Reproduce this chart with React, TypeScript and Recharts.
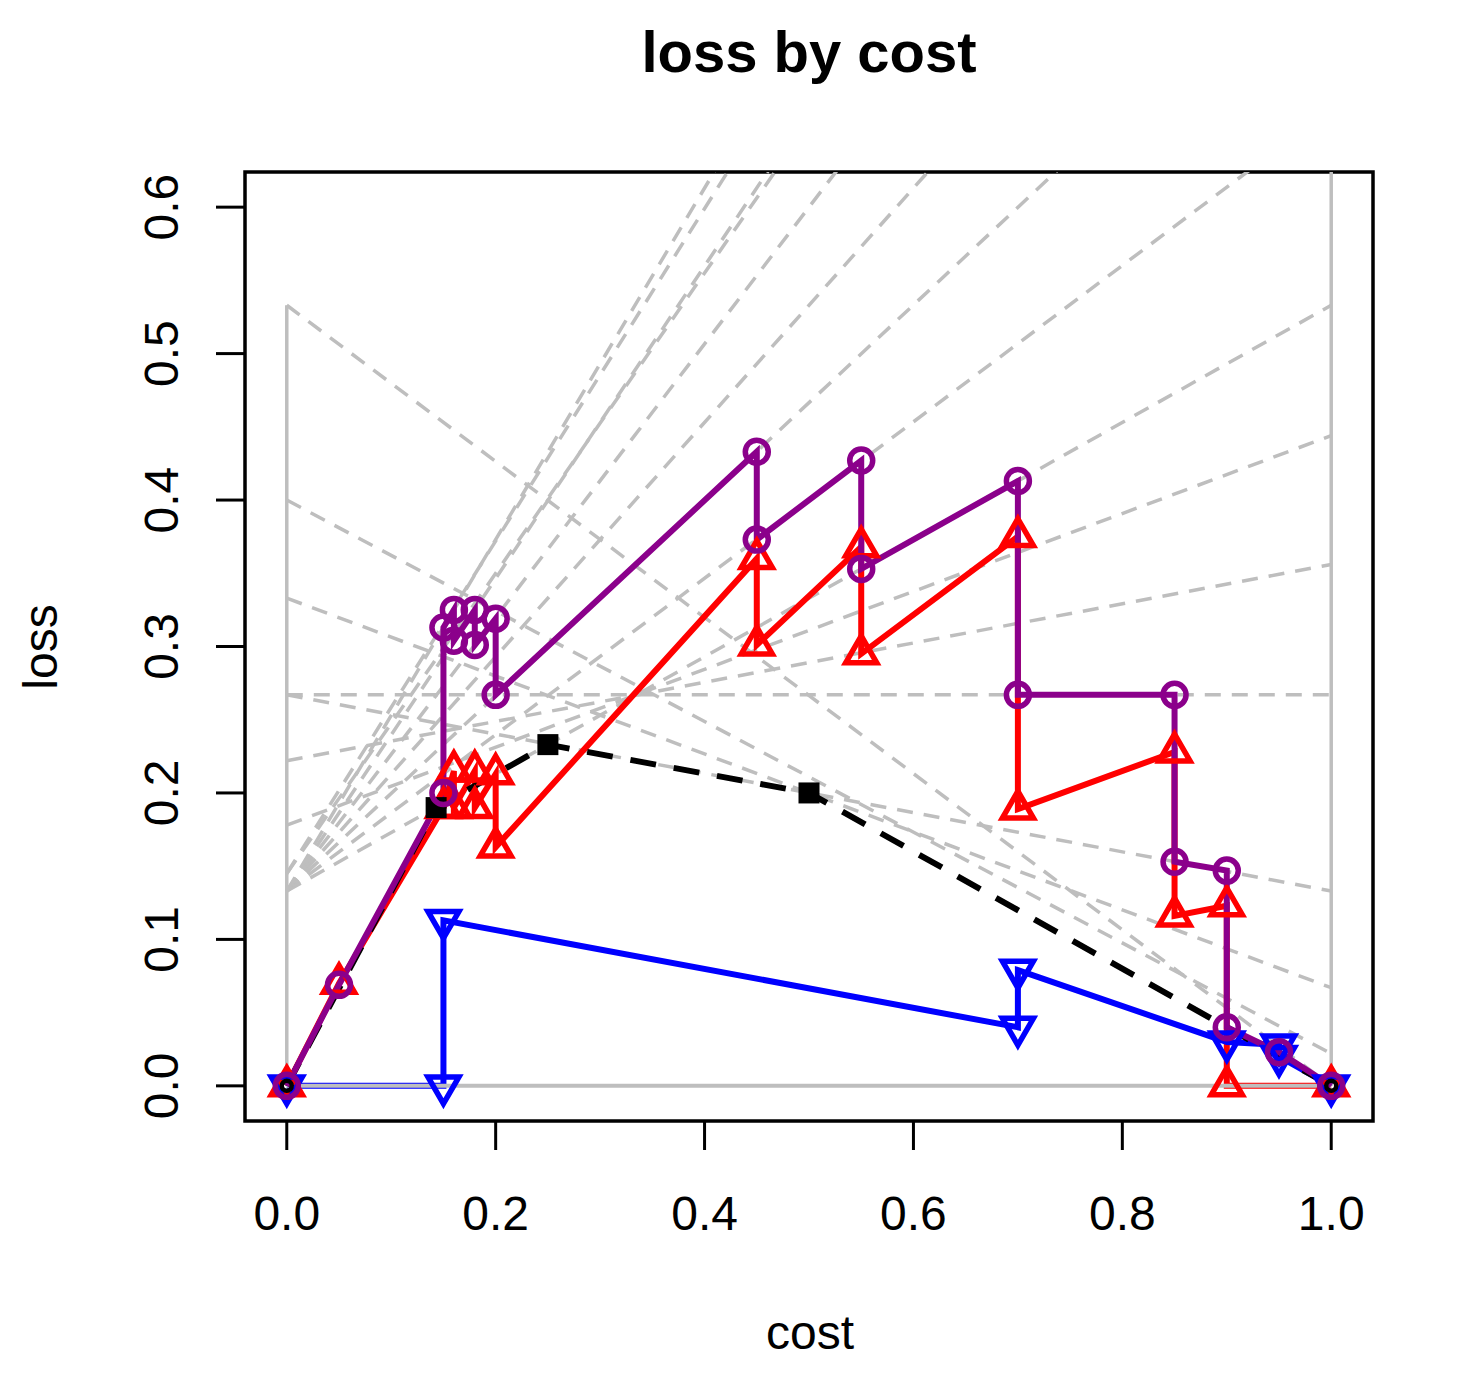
import React from 'react';
import { ComposedChart, Line, XAxis, YAxis, ReferenceArea } from 'recharts';

// ---- axis ticks ----
const xTicks = [0, 0.2, 0.4, 0.6, 0.8, 1.0];
const yTicks = [0, 0.1, 0.2, 0.3, 0.4, 0.5, 0.6];

// ---- purple series (circles) ----
const purpleCost = [0, 0.05, 0.15, 0.15, 0.16, 0.16, 0.18, 0.18, 0.2, 0.2, 0.45, 0.45, 0.55, 0.55, 0.7, 0.7, 0.85, 0.85, 0.9, 0.9, 0.95, 1];
const purpleLoss = [0, 0.069, 0.2, 0.313, 0.325, 0.304, 0.325, 0.301, 0.319, 0.267, 0.433, 0.373, 0.427, 0.353, 0.413, 0.267, 0.267, 0.153, 0.147, 0.04, 0.023, 0];

// ---- red series (up triangles) ----
const redCost = [0, 0.05, 0.15, 0.16, 0.16, 0.18, 0.18, 0.2, 0.2, 0.45, 0.45, 0.55, 0.55, 0.7, 0.7, 0.85, 0.85, 0.9, 0.9, 1];
const redLoss = [0, 0.07, 0.19, 0.215, 0.19, 0.215, 0.19, 0.213, 0.163, 0.36, 0.301, 0.368, 0.295, 0.375, 0.189, 0.228, 0.116, 0.123, 0, 0];

// ---- blue series (down triangles) ----
const blueCost = [0, 0.15, 0.15, 0.7, 0.7, 0.9, 0.95, 0.95, 1];
const blueLoss = [0, 0, 0.113, 0.04, 0.079, 0.03, 0.028, 0.02, 0];

// ---- black dashed series (squares) ----
const blackCost = [0, 0.143, 0.25, 0.5, 1];
const blackLoss = [0, 0.19, 0.233, 0.2, 0];

// ---- gray dashed cost lines: loss at cost 0 and at cost 1 ----
const grayAtZero = [0.533, 0.4, 0.333, 0.267, 0.267, 0.222, 0.178, 0.133, 0.133, 0.133, 0.133, 0.133, 0.145, 0.133, 0.145, 0.133];
const grayAtOne = [0, 0.022, 0.067, 0.133, 0.267, 0.356, 0.444, 0.533, 0.667, 0.8, 0.933, 1.067, 1.17, 1.2, 1.28, 1.333];

// ---- solid gray frame lines ----
const frameLeftTop = 0.533;
const frameRightTop = 1.333;

const zip = (xs: number[], ys: number[]) => xs.map((x, i) => ({ x, y: ys[i] }));

const purpleData = zip(purpleCost, purpleLoss);
const redData = zip(redCost, redLoss);
const blueData = zip(blueCost, blueLoss);
const blackData = zip(blackCost, blackLoss);
const blackEnds = [blackData[0], blackData[blackData.length - 1]];
const grayData = grayAtZero.map((a, i) => [{ x: 0, y: a }, { x: 1, y: grayAtOne[i] }]);
const frameVertical = [
  [{ x: 0, y: 0 }, { x: 0, y: frameLeftTop }],
  [{ x: 1, y: 0 }, { x: 1, y: frameRightTop }],
];
const frameBase = [{ x: 0, y: 0 }, { x: 1, y: 0 }];

const PURPLE = '#8B008B';
const RED = '#FF0000';
const BLUE = '#0000FF';
const GRAY = '#BEBEBE';
const FONT = '"Liberation Sans", Arial, Helvetica, sans-serif';

const R0 = 11.5;
const MS = 5.5;
const circleDot = (color: string) => (p: any) => (
  <circle key={`c${p.index}`} cx={p.cx} cy={p.cy} r={R0} fill="none" stroke={color} strokeWidth={MS} />
);
const triUp = (color: string) => (p: any) => {
  const { cx, cy } = p;
  const d = `M${cx},${cy - 1.555 * R0} L${cx + 1.347 * R0},${cy + 0.778 * R0} L${cx - 1.347 * R0},${cy + 0.778 * R0} Z`;
  return <path key={`u${p.index}`} d={d} fill="none" stroke={color} strokeWidth={MS} strokeLinejoin="miter" />;
};
const triDown = (color: string) => (p: any) => {
  const { cx, cy } = p;
  const d = `M${cx},${cy + 1.555 * R0} L${cx + 1.347 * R0},${cy - 0.778 * R0} L${cx - 1.347 * R0},${cy - 0.778 * R0} Z`;
  return <path key={`d${p.index}`} d={d} fill="none" stroke={color} strokeWidth={MS} strokeLinejoin="miter" />;
};
const blackDot = (p: any) => {
  if (p.index === 0 || p.index === blackData.length - 1) return <g key={`b${p.index}`} />;
  return <rect key={`b${p.index}`} x={p.cx - 10.5} y={p.cy - 10.5} width={21} height={21} fill="#000" />;
};
const ringDot = (p: any) => (
  <circle key={`r${p.index}`} cx={p.cx} cy={p.cy} r={5} fill="none" stroke="#000" strokeWidth={4.5} />
);

const XTick = (p: any) => (
  <text x={p.x} y={p.y + 80} textAnchor="middle" fontFamily={FONT} fontSize={48} fill="#000">
    {Number(p.payload.value).toFixed(1)}
  </text>
);
const YTick = (p: any) => (
  <text transform={`translate(${p.x - 38},${p.y}) rotate(-90)`} textAnchor="middle" fontFamily={FONT} fontSize={48} fill="#000">
    {Number(p.payload.value).toFixed(1)}
  </text>
);

const W = 1443;
const H = 1360;

export default function App() {
  return (
    <div style={{ position: 'relative', width: W, height: H }}>
      <ComposedChart width={W} height={H} margin={{ top: 164, right: 78, bottom: 97, left: 0 }}>
        <XAxis
          type="number"
          dataKey="x"
          domain={[-0.04, 1.04]}
          ticks={xTicks}
          interval={0}
          allowDataOverflow
          height={150}
          tickSize={29}
          tickMargin={0}
          axisLine={false}
          tickLine={{ stroke: '#000', strokeWidth: 3 }}
          tick={<XTick />}
        />
        <YAxis
          type="number"
          dataKey="y"
          domain={[-0.024, 0.624]}
          ticks={yTicks}
          interval={0}
          allowDataOverflow
          width={237}
          tickSize={29}
          tickMargin={0}
          axisLine={false}
          tickLine={{ stroke: '#000', strokeWidth: 3 }}
          tick={<YTick />}
        />
        {grayData.map((d, i) => (
          <Line key={`g${i}`} data={d} dataKey="y" stroke={GRAY} strokeWidth={3.5} strokeDasharray="16 11" dot={false} activeDot={false} isAnimationActive={false} legendType="none" />
        ))}
        {frameVertical.map((d, i) => (
          <Line key={`f${i}`} data={d} dataKey="y" stroke={GRAY} strokeWidth={3.5} dot={false} activeDot={false} isAnimationActive={false} legendType="none" />
        ))}
        <Line data={redData} dataKey="y" stroke={RED} strokeWidth={6} dot={triUp(RED)} activeDot={false} isAnimationActive={false} legendType="none" />
        <Line data={blueData} dataKey="y" stroke={BLUE} strokeWidth={6} dot={triDown(BLUE)} activeDot={false} isAnimationActive={false} legendType="none" />
        <Line data={frameBase} dataKey="y" stroke={GRAY} strokeWidth={4} dot={false} activeDot={false} isAnimationActive={false} legendType="none" />
        <Line data={blackData} dataKey="y" stroke="#000" strokeWidth={6} strokeDasharray="26 18" dot={blackDot} activeDot={false} isAnimationActive={false} legendType="none" />
        <Line data={purpleData} dataKey="y" stroke={PURPLE} strokeWidth={6} dot={circleDot(PURPLE)} activeDot={false} isAnimationActive={false} legendType="none" />
        <Line data={blackEnds} dataKey="y" stroke="none" dot={ringDot} activeDot={false} isAnimationActive={false} legendType="none" />
        <ReferenceArea x1={-0.04} x2={1.04} y1={-0.024} y2={0.624} fill="none" stroke="#000" strokeWidth={3.5} ifOverflow="visible" />
      </ComposedChart>
      <svg width={W} height={H} style={{ position: 'absolute', left: 0, top: 0, pointerEvents: 'none' }}>
        <text x={801} y={64} textAnchor="middle" fontFamily={FONT} fontSize={58} fontWeight="bold" fill="#000">loss by cost</text>
        <text x={802} y={1341} textAnchor="middle" fontFamily={FONT} fontSize={48} fill="#000">cost</text>
        <text transform="translate(49,639) rotate(-90)" textAnchor="middle" fontFamily={FONT} fontSize={48} fill="#000">loss</text>
      </svg>
    </div>
  );
}
